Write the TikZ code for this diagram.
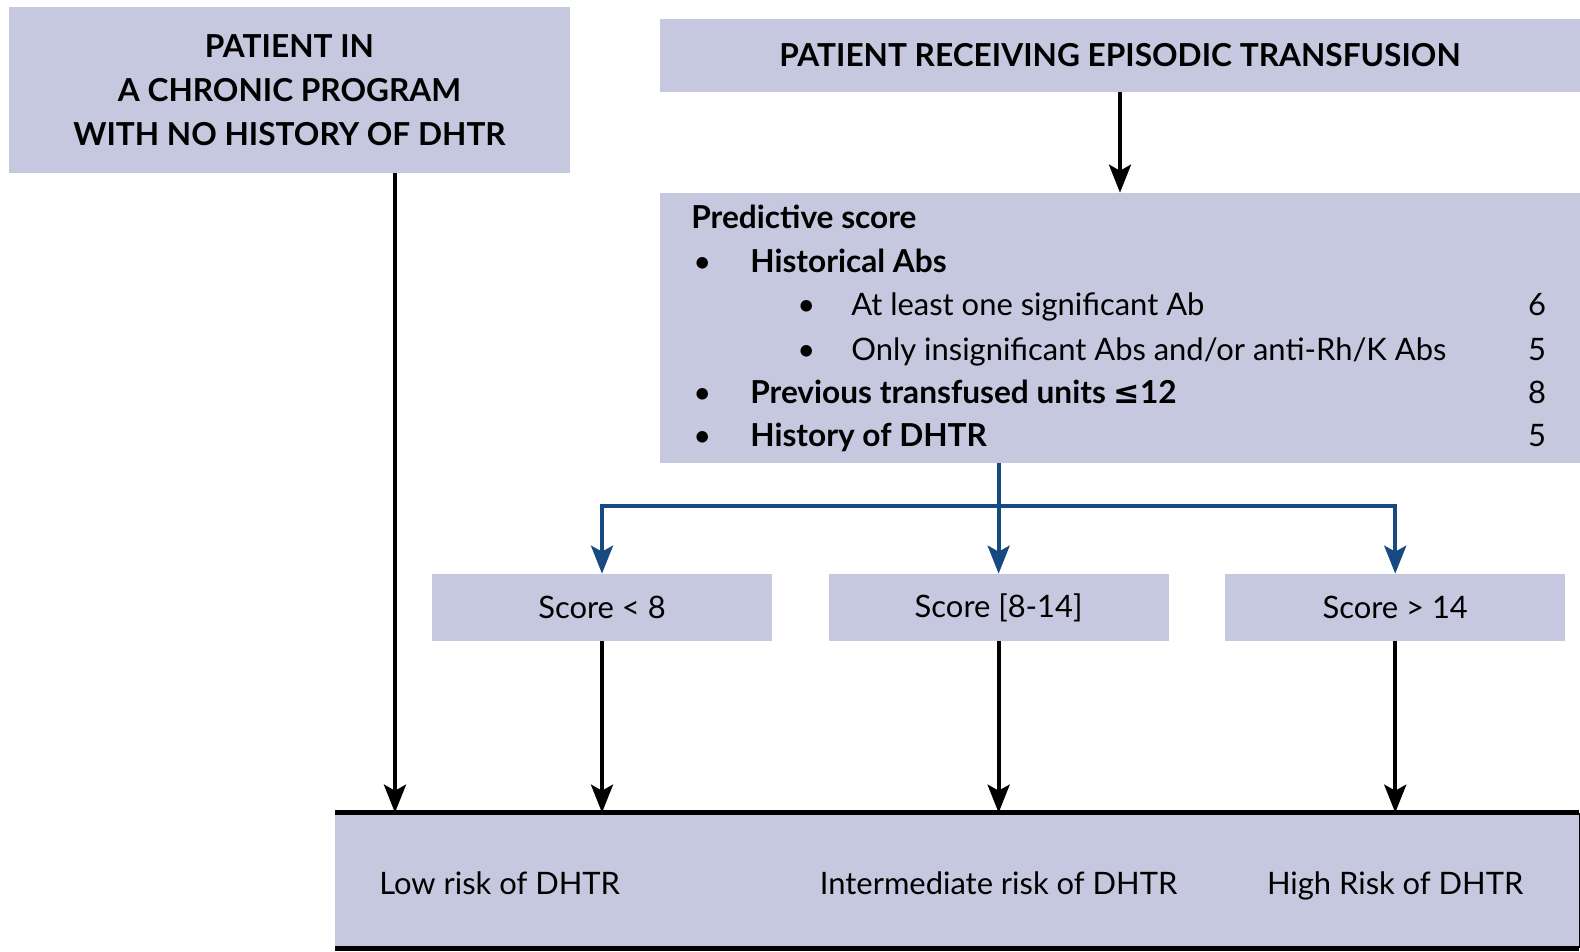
\documentclass[tikz,border=0pt]{standalone}
\usepackage{fontspec}
\setmainfont{Lato}
\newfontfamily\symbolfont{DejaVu Sans}
\usepackage{tikz}
\usetikzlibrary{arrows.meta, positioning}
\usepackage{xcolor}
\definecolor{boxlavender}{RGB}{197, 200, 222}
\definecolor{branchblue}{RGB}{24, 74, 130}

\begin{document}
\begin{tikzpicture}[x=0.02cm, y=-0.02cm,
    box/.style={fill=boxlavender, inner sep=0pt, font=\fontsize{17.6}{25}\selectfont},
    head/.style={box, font=\fontsize{18}{25}\selectfont\bfseries, align=center},
    item/.style={anchor=base west, inner sep=0pt, font=\fontsize{17.6}{25}\selectfont},
    arrow/.style={-{Stealth[length=0.56cm, width=0.44cm, inset=0.12cm]}, line width=2.3pt},
    branch/.style={arrow, color=branchblue}]
    \useasboundingbox (0,0) rectangle (1580,951);
    % entry boxes
    \node[head, minimum width=11.22cm, minimum height=3.32cm] (chronic) at (289.5,90) {PATIENT IN\\A CHRONIC PROGRAM\\WITH NO HISTORY OF DHTR};
    \node[head, minimum width=18.4cm, minimum height=1.46cm] (episodic) at (1120,55.5) {PATIENT RECEIVING EPISODIC TRANSFUSION};
    % predictive score
    \node[box, minimum width=18.4cm, minimum height=5.4cm] (predict) at (1120,328) {};
    \node[item, font=\fontsize{18}{25}\selectfont\bfseries] (ptitle) at (691,228) {Predictive score};
    \node[item] (hist) at (693,272) {\makebox[1.14cm][l]{\textbullet}\textbf{\fontsize{18}{25}\selectfont Historical Abs}};
    \node[item] (sig) at (797,315) {\makebox[1.08cm][l]{\textbullet}At least one significant Ab};
    \node[item] (insig) at (797,360) {\makebox[1.08cm][l]{\textbullet}Only insignificant Abs and/or anti-Rh/K Abs};
    \node[item] (units) at (693,403) {\makebox[1.14cm][l]{\textbullet}\textbf{\fontsize{18}{25}\selectfont Previous transfused units {\symbolfont\bfseries ≤}12}};
    \node[item] (dhtr) at (693,446) {\makebox[1.14cm][l]{\textbullet}\textbf{\fontsize{18}{25}\selectfont History of DHTR}};
    \node[item, anchor=base] (nsig) at (1537,315) {6};
    \node[item, anchor=base] (ninsig) at (1537,360) {5};
    \node[item, anchor=base] (nunits) at (1537,403) {8};
    \node[item, anchor=base] (ndhtr) at (1537,446) {5};
    % score classes
    \node[box, minimum width=6.8cm, minimum height=1.34cm] (low) at (602,607.5) {Score < 8};
    \node[box, minimum width=6.8cm, minimum height=1.34cm, right=1.12cm of low] (mid) {Score [8-14]};
    \node[box, minimum width=6.8cm, minimum height=1.34cm, right=1.12cm of mid] (high) {Score > 14};
    % risk band
    \node[box, minimum width=24.88cm, minimum height=2.7cm] (risk) at (957,880.5) {};
    \node[item] (lowrisk) at (379,894) {Low risk of DHTR};
    \node[item, anchor=base] (midrisk) at (mid |- lowrisk.base) {Intermediate risk of DHTR};
    \node[item, anchor=base] (highrisk) at (high |- lowrisk.base) {High Risk of DHTR};
    \draw[line width=2.5pt] (risk.north west) -- (risk.north east);
    \draw[line width=2.5pt] (risk.south west) -- (risk.south east);
    \draw[line width=0.8pt] (risk.north east) -- (risk.south east);
    % connectors
    \draw[arrow] (episodic) -- (predict);
    \coordinate (fork) at (mid.north |- 0,506);
    \draw[branch] (predict.south -| fork) -- (mid.north);
    \draw[branch] (fork) -| (low.north);
    \draw[branch] (fork) -| (high.north);
    \draw[arrow] ([xshift=2.11cm]chronic.south) -- ([xshift=2.11cm]chronic.south |- risk.north);
    \draw[arrow] (low) -- (low |- risk.north);
    \draw[arrow] (mid) -- (mid |- risk.north);
    \draw[arrow] (high) -- (high |- risk.north);
\end{tikzpicture}
\end{document}
